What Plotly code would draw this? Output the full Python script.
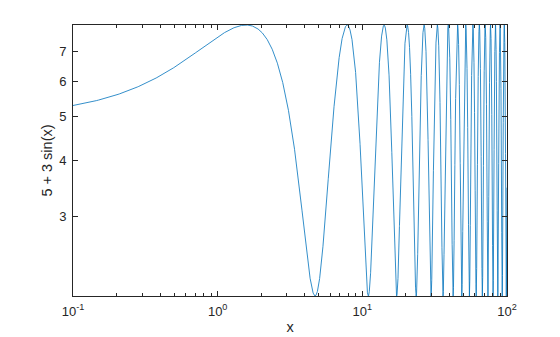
import numpy as np
import plotly.graph_objects as go

# Data: the curve named on the y-axis label, 5 + 3 sin(x), for x from 0.1 to 100
x_start = 0.1
x_end = 100.0
n_points = 20000
offset = 5
amplitude = 3
x = np.linspace(x_start, x_end, n_points)
y = offset + amplitude * np.sin(x)

x_tickvals = [0.1, 1, 10, 100]
x_ticktext = ["10<sup>-1</sup>", "10<sup>0</sup>", "10<sup>1</sup>", "10<sup>2</sup>"]
y_tickvals = [3, 4, 5, 6, 7]
y_ticktext = ["3", "4", "5", "6", "7"]

fig = go.Figure()
fig.add_trace(go.Scatter(x=x, y=y, mode="lines",
                         line=dict(color="#0072BD", width=0.8),
                         showlegend=False, hoverinfo="skip"))

font = "Liberation Sans, Arial, Helvetica, sans-serif"
fig.update_layout(
    width=560, height=337,
    margin=dict(l=73, r=53, t=25, b=41, autoexpand=False),
    paper_bgcolor="white", plot_bgcolor="white",
    font=dict(family=font, size=13, color="#262626"),
)
fig.update_xaxes(
    type="log", range=[np.log10(x_start), np.log10(x_end)],
    tickvals=x_tickvals, ticktext=x_ticktext,
    ticks="inside", ticklen=5, tickcolor="#262626", tickwidth=1,
    showline=True, linecolor="#262626", linewidth=1, mirror="ticks",
    showgrid=False, zeroline=False, automargin=False,
    minor=dict(ticks="inside", ticklen=3, tickcolor="#262626", dtick="D1", showgrid=False),
    tickfont=dict(size=13), ticklabelstandoff=3,
    title=dict(text="x", font=dict(size=14.5), standoff=4),
)
fig.update_yaxes(
    type="log", range=[np.log10(2), np.log10(8)],
    tickvals=y_tickvals, ticktext=y_ticktext,
    ticks="inside", ticklen=5, tickcolor="#262626", tickwidth=1,
    showline=True, linecolor="#262626", linewidth=1, mirror="ticks",
    showgrid=False, zeroline=False, automargin=False,
    tickfont=dict(size=13), ticklabelstandoff=3,
    title=dict(text="5 + 3 sin(x)", font=dict(size=14.5), standoff=3),
)

fig.write_html("out.html")
